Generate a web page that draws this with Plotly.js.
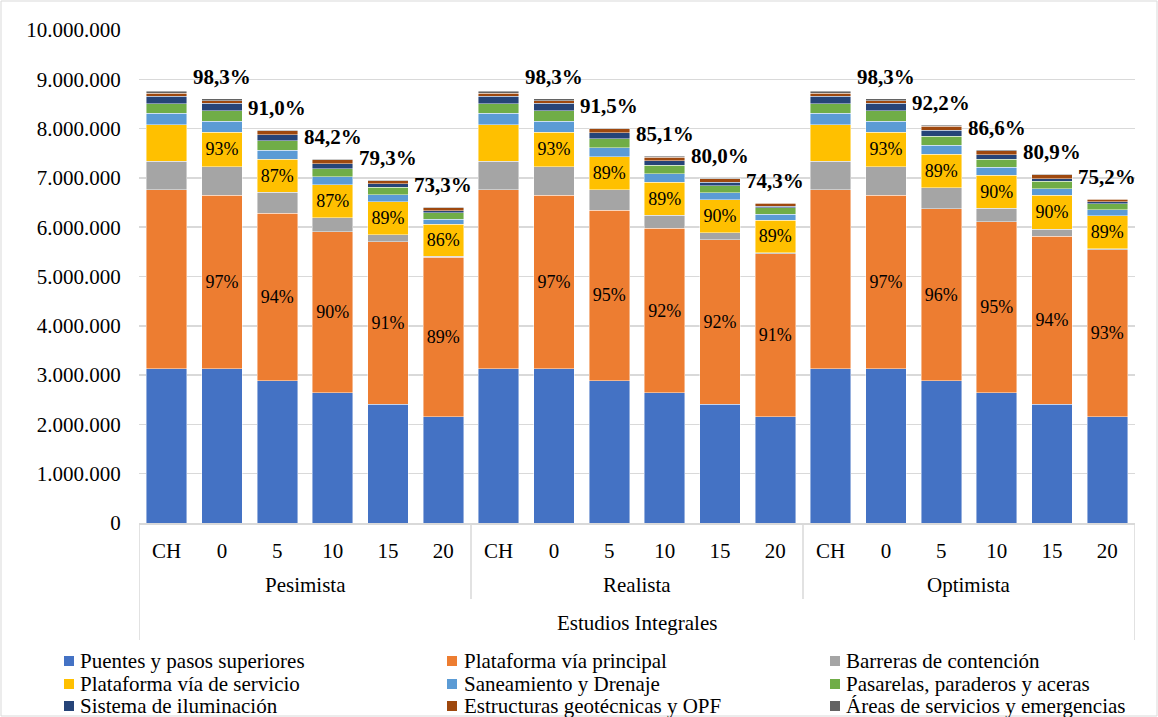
<!DOCTYPE html>
<html>
<head>
<meta charset="utf-8">
<script src="https://cdn.plot.ly/plotly-3.0.1.min.js"></script>
<style>
html,body{margin:0;padding:0;background:#fff;}
#chart{width:1158px;height:717px;}
</style>
</head>
<body>
<div id="chart"></div>
<script>
// ---- data ----
var scenarios = ['Pesimista', 'Realista', 'Optimista'];
var years = ['CH', '0', '5', '10', '15', '20'];
var groupTitle = 'Estudios Integrales';

var seriesNames = [
  'Puentes y pasos superiores', 'Plataforma vía principal', 'Barreras de contención',
  'Plataforma vía de servicio', 'Saneamiento y Drenaje', 'Pasarelas, paraderos y aceras',
  'Sistema de iluminación', 'Estructuras geotécnicas y OPF', 'Áreas de servicios y emergencias'
];
var seriesColors = ['#4472C4', '#ED7D31', '#A5A5A5', '#FFC000', '#5B9BD5', '#70AD47', '#264478', '#9E480E', '#636363'];

// values (Pesimista CH..20, Realista CH..20, Optimista CH..20)
var puentes = [3130000, 3130000, 2890000, 2640000, 2410000, 2160000,
               3130000, 3130000, 2890000, 2640000, 2410000, 2160000,
               3130000, 3130000, 2890000, 2640000, 2410000, 2160000];
var plataformaPrincipal = [3630000, 3520000, 3390000, 3270000, 3300000, 3230000,
                           3630000, 3520000, 3450000, 3340000, 3340000, 3300000,
                           3630000, 3520000, 3485000, 3470000, 3410000, 3380000];
var barreras = [574000, 580000, 430000, 284000, 142000, 20000,
                574000, 580000, 420000, 265000, 135000, 20000,
                574000, 580000, 430000, 270000, 135000, 20000];
var plataformaServicio = [744000, 700000, 670000, 663000, 667000, 645000,
                          744000, 700000, 665000, 670000, 675000, 665000,
                          744000, 700000, 670000, 670000, 690000, 670000];
var saneamiento = [237000, 220000, 180000, 170000, 136000, 108000,
                   237000, 220000, 190000, 168000, 136000, 115000,
                   237000, 220000, 190000, 168000, 136000, 120000];
var pasarelas = [190000, 210000, 190000, 156000, 154000, 135000,
                 190000, 210000, 180000, 170000, 148000, 130000,
                 190000, 210000, 180000, 156000, 148000, 125000];
var iluminacion = [148000, 156000, 130000, 108000, 69000, 40000,
                   148000, 156000, 120000, 90000, 67000, 40000,
                   148000, 156000, 120000, 95000, 55000, 40000];
var geotecnicas = [69000, 50000, 75000, 75000, 67000, 55000,
                   69000, 50000, 80000, 80000, 70000, 55000,
                   69000, 50000, 80000, 80000, 75000, 55000];
var areas = [32000, 35000, 10000, 10000, 10000, 10000,
             32000, 35000, 10000, 20000, 10000, 10000,
             32000, 35000, 20000, 25000, 15000, 10000];

var labelsPrincipal = ['', '97%', '94%', '90%', '91%', '89%',
                       '', '97%', '95%', '92%', '92%', '91%',
                       '', '97%', '96%', '95%', '94%', '93%'];
var labelsServicio = ['', '93%', '87%', '87%', '89%', '86%',
                      '', '93%', '89%', '89%', '90%', '89%',
                      '', '93%', '89%', '90%', '90%', '89%'];
var totalLabels = ['', '98,3%', '91,0%', '84,2%', '79,3%', '73,3%',
                   '', '98,3%', '91,5%', '85,1%', '80,0%', '74,3%',
                   '', '98,3%', '92,2%', '86,6%', '80,9%', '75,2%'];

var yTicks = [0, 1000000, 2000000, 3000000, 4000000, 5000000, 6000000, 7000000, 8000000, 9000000, 10000000];

// ---- build ----
var FONT = 'Liberation Serif, Times New Roman, serif';
var cats = [], tickText = [];
scenarios.forEach(function (s) { years.forEach(function (y) { cats.push(s + ' ' + y); tickText.push(y); }); });

var allSeries = [puentes, plataformaPrincipal, barreras, plataformaServicio, saneamiento, pasarelas, iluminacion, geotecnicas, areas];

var traces = allSeries.map(function (vals, i) {
  var t = {
    type: 'bar',
    name: seriesNames[i],
    x: cats,
    y: vals,
    marker: {color: seriesColors[i], line: {color: 'rgba(255,255,255,0.55)', width: 0.8}},
    showlegend: false,
    hoverinfo: 'x+y+name',
    textposition: 'none'
  };
  if (i === 1 || i === 3) {
    t.text = (i === 1) ? labelsPrincipal : labelsServicio;
    t.textposition = 'inside';
    t.insidetextanchor = 'middle';
    t.textangle = 0;
    t.constraintext = 'none';
    t.textfont = {family: FONT, size: 18, color: '#000'};
  }
  return t;
});

var totals = cats.map(function (c, j) {
  return allSeries.reduce(function (a, s) { return a + s[j]; }, 0);
});

var annotations = [];
cats.forEach(function (c, j) {
  if (totalLabels[j]) {
    annotations.push({
      x: c, y: totals[j], xref: 'x', yref: 'y',
      text: '<b>' + totalLabels[j] + '</b>', showarrow: false,
      yanchor: 'middle', yshift: 22,
      font: {family: FONT, size: 21, color: '#000'}
    });
  }
});

var plotTop = 30, plotBottom = 523, plotH = plotBottom - plotTop;
var plotL = 139, plotW = 996;
function py(pix) { return (plotBottom - pix) / plotH; }
function px(pix) { return (pix - plotL) / plotW; }

// group labels
scenarios.forEach(function (s, k) {
  annotations.push({
    x: k * years.length + (years.length - 1) / 2, y: py(585), xref: 'x', yref: 'paper',
    text: s, showarrow: false, yanchor: 'middle',
    font: {family: FONT, size: 21, color: '#000'}
  });
});
annotations.push({
  x: (cats.length - 1) / 2, y: py(623), xref: 'x', yref: 'paper',
  text: groupTitle, showarrow: false, yanchor: 'middle',
  font: {family: FONT, size: 21, color: '#000'}
});

var lineCol = '#d9d9d9';
var shapes = [];
for (var k = 1; k < scenarios.length; k++) {
  shapes.push({type: 'line', xref: 'x', yref: 'paper', x0: k * years.length - 0.5, x1: k * years.length - 0.5,
    y0: 0, y1: py(599), line: {color: lineCol, width: 1.5}});
}
[-0.5, cats.length - 0.5].forEach(function (xv) {
  shapes.push({type: 'line', xref: 'x', yref: 'paper', x0: xv, x1: xv, y0: 0, y1: py(640), line: {color: lineCol, width: 1.5}});
});
shapes.push({type: 'rect', xref: 'paper', yref: 'paper',
  x0: px(1), x1: px(1157), y0: py(716), y1: py(1),
  line: {color: lineCol, width: 1}, fillcolor: 'rgba(0,0,0,0)'});

// legend (3 columns x 3 rows, row-wise order)
var legColMarker = [69, 452, 835];
var legColText = [80, 464, 846];
var legRowY = [661, 684, 706];
seriesNames.forEach(function (n, i) {
  var col = i % 3, row = Math.floor(i / 3);
  var cx = legColMarker[col], cy = legRowY[row];
  shapes.push({type: 'rect', xref: 'paper', yref: 'paper',
    x0: px(cx - 5), x1: px(cx + 5), y0: py(cy + 5), y1: py(cy - 5),
    fillcolor: seriesColors[i], line: {width: 0}});
  annotations.push({
    x: px(legColText[col] - 2), y: py(cy), xref: 'paper', yref: 'paper',
    text: n, showarrow: false, xanchor: 'left', yanchor: 'middle',
    font: {family: FONT, size: 21, color: '#000'}
  });
});

var layout = {
  width: 1158, height: 717,
  margin: {l: plotL, r: 1158 - plotL - plotW, t: plotTop, b: 717 - plotBottom, autoexpand: false},
  paper_bgcolor: '#fff', plot_bgcolor: '#fff',
  barmode: 'stack', bargap: 0.27,
  separators: ',.',
  font: {family: FONT, size: 21, color: '#000'},
  showlegend: false,
  xaxis: {
    type: 'category', categoryorder: 'array', categoryarray: cats,
    tickmode: 'array', tickvals: cats, ticktext: tickText,
    ticks: 'outside', ticklen: 8, tickcolor: 'rgba(0,0,0,0)',
    showline: true, linecolor: lineCol, linewidth: 2,
    showgrid: false, zeroline: false,
    tickfont: {family: FONT, size: 21, color: '#000'},
    range: [-0.5, cats.length - 0.5], fixedrange: true
  },
  yaxis: {
    range: [0, 10000000], tickmode: 'array', tickvals: yTicks,
    tickformat: ',d',
    ticks: 'outside', ticklen: 13, tickcolor: 'rgba(0,0,0,0)',
    showgrid: true, gridcolor: lineCol, gridwidth: 1.5,
    zeroline: false, showline: false,
    tickfont: {family: FONT, size: 21, color: '#000'}, fixedrange: true
  },
  annotations: annotations,
  shapes: shapes
};

Plotly.newPlot('chart', traces, layout, {displayModeBar: false, staticPlot: true});
</script>
</body>
</html>
